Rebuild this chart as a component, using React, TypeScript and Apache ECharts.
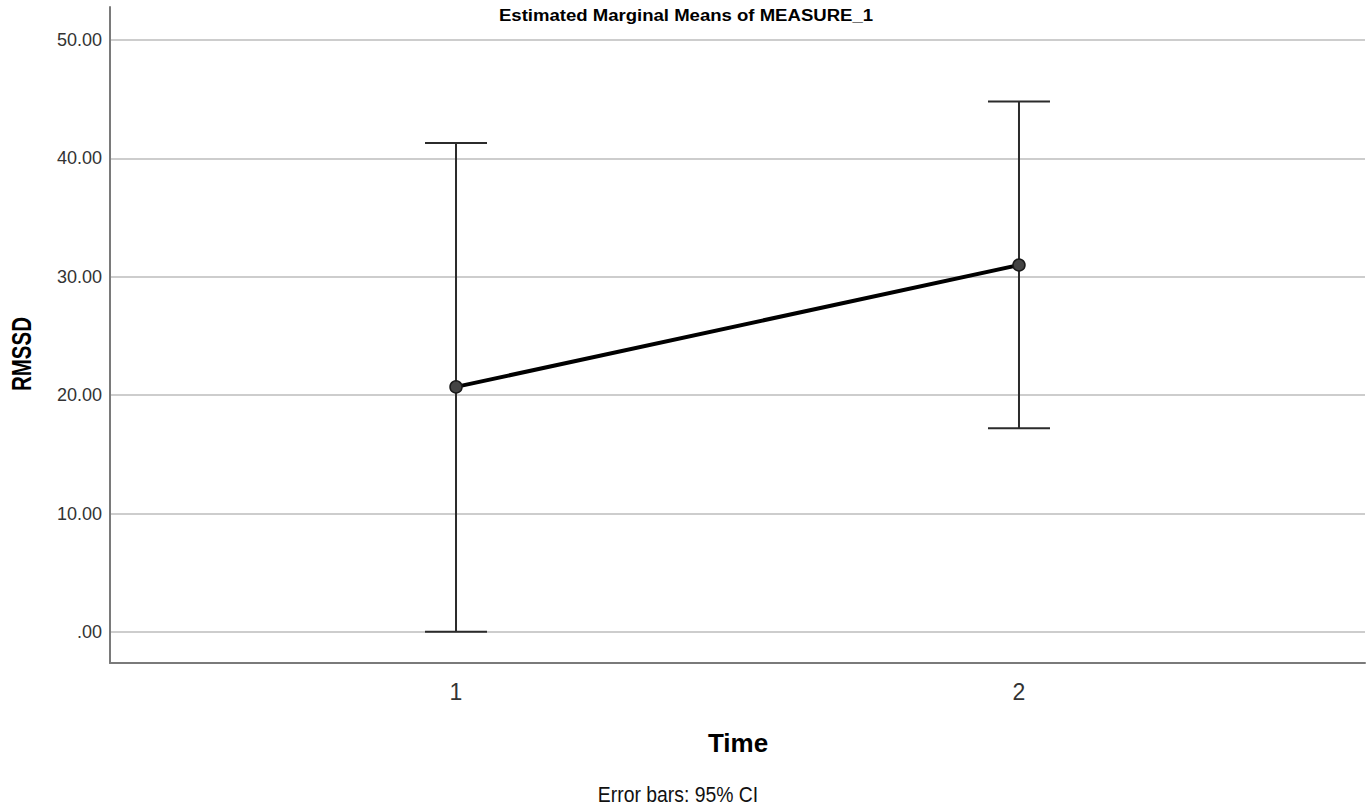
import React, { useEffect, useRef } from "react";
import * as echarts from "echarts";

const timePoints = [1, 2];
const means = [20.7, 31.0];
const ciLower = [0.03, 17.2];
const ciUpper = [41.3, 44.8];
const yTicks = [0, 10, 20, 30, 40, 50];
const xTicks = [1, 2];

const SANS = "'Liberation Sans', Arial, sans-serif";

export default function App() {
  const ref = useRef<HTMLDivElement>(null);
  useEffect(() => {
    if (!ref.current) return;
    const chart = echarts.init(ref.current, undefined, { renderer: "svg" });
    const lineData = timePoints.map((t, i) => [t, means[i]]);
    const errData = timePoints.map((t, i) => [t, ciLower[i], ciUpper[i]]);
    chart.setOption({
      animation: false,
      backgroundColor: "#ffffff",
      grid: { left: 110, right: 7, top: 7, bottom: 146 },
      xAxis: {
        type: "value",
        min: 0.3854,
        max: 2.6146,
        axisLine: { show: true, onZero: false, lineStyle: { color: "#7a7a7a", width: 2 } },
        axisTick: { show: false },
        splitLine: { show: false },
        axisLabel: {
          customValues: xTicks,
          formatter: (v: number) => String(v),
          fontSize: 23,
          color: "#333",
          fontFamily: SANS,
          margin: 17,
        },
      },
      yAxis: {
        type: "value",
        min: -2.62,
        max: 52.79,
        axisLine: { show: true, onZero: false, lineStyle: { color: "#7a7a7a", width: 2 } },
        axisTick: { show: false, customValues: yTicks },
        splitLine: { show: true, lineStyle: { color: "#bdbdbd", width: 1.5 } },
        axisLabel: {
          customValues: yTicks,
          formatter: (v: number) => (v === 0 ? ".00" : v.toFixed(2)),
          fontSize: 18,
          color: "#333",
          fontFamily: SANS,
          margin: 8,
        },
      },
      graphic: [
        {
          type: "text",
          x: 686,
          y: 15,
          scaleX: 1.16,
          style: {
            text: "Estimated Marginal Means of MEASURE_1",
            font: `bold 16px ${SANS}`,
            fill: "#000",
            align: "center",
            verticalAlign: "middle",
          },
        },
        {
          type: "text",
          x: 21,
          y: 354,
          rotation: Math.PI / 2,
          scaleX: 0.76,
          style: {
            text: "RMSSD",
            font: `bold 27px ${SANS}`,
            fill: "#000",
            align: "center",
            verticalAlign: "middle",
          },
        },
        {
          type: "text",
          x: 738,
          y: 743,
          style: {
            text: "Time",
            font: `bold 26px ${SANS}`,
            fill: "#000",
            align: "center",
            verticalAlign: "middle",
          },
        },
        {
          type: "text",
          x: 678,
          y: 794,
          scaleX: 0.88,
          style: {
            text: "Error bars: 95% CI",
            font: `22px ${SANS}`,
            fill: "#111",
            align: "center",
            verticalAlign: "middle",
          },
        },
      ],
      series: [
        {
          type: "custom",
          z: 2,
          data: errData,
          renderItem: (params: any, api: any) => {
            const x = api.value(0);
            const lo = api.coord([x, api.value(1)]);
            const hi = api.coord([x, api.value(2)]);
            const hw = 31;
            const style = { stroke: "#2b2b2b", lineWidth: 2 };
            return {
              type: "group",
              children: [
                { type: "line", shape: { x1: lo[0], y1: lo[1], x2: hi[0], y2: hi[1] }, style },
                { type: "line", shape: { x1: hi[0] - hw, y1: hi[1], x2: hi[0] + hw, y2: hi[1] }, style },
                { type: "line", shape: { x1: lo[0] - hw, y1: lo[1], x2: lo[0] + hw, y2: lo[1] }, style },
              ],
            };
          },
        },
        {
          type: "line",
          z: 5,
          data: lineData,
          symbol: "circle",
          symbolSize: 12,
          lineStyle: { color: "#000", width: 4 },
          itemStyle: { color: "#444", borderColor: "#1a1a1a", borderWidth: 1.5 },
        },
      ],
    });
    return () => chart.dispose();
  }, []);
  return (
    <div
      ref={ref}
      style={{ position: "absolute", left: 0, top: 0, width: 1372, height: 809 }}
    />
  );
}
